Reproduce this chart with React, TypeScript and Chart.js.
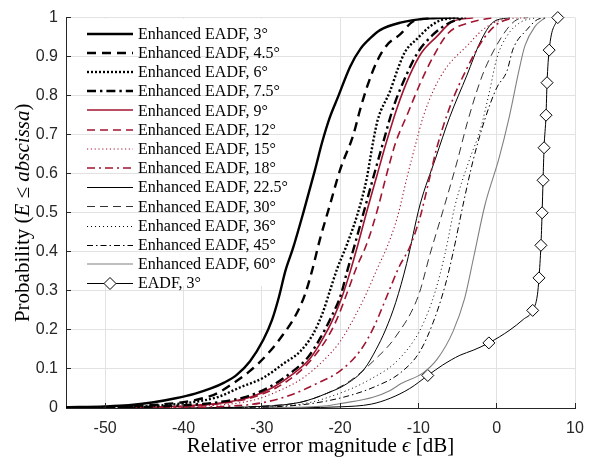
import React, { useEffect, useRef } from "react";
import { Chart, registerables } from "chart.js";

Chart.register(...registerables);

// ---------- axes ----------
const xTicks = [-50, -40, -30, -20, -10, 0, 10];
const yTicks = [0, 0.1, 0.2, 0.3, 0.4, 0.5, 0.6, 0.7, 0.8, 0.9, 1];
const yTickLabels = ["0", "0.1", "0.2", "0.3", "0.4", "0.5", "0.6", "0.7", "0.8", "0.9", "1"];
const xMin = -55;
const xMax = 10;

// ---------- series labels ----------
const seriesLabels = [
  "Enhanced EADF, 3°",
  "Enhanced EADF, 4.5°",
  "Enhanced EADF, 6°",
  "Enhanced EADF, 7.5°",
  "Enhanced EADF, 9°",
  "Enhanced EADF, 12°",
  "Enhanced EADF, 15°",
  "Enhanced EADF, 18°",
  "Enhanced EADF, 22.5°",
  "Enhanced EADF, 30°",
  "Enhanced EADF, 36°",
  "Enhanced EADF, 45°",
  "Enhanced EADF, 60°",
  "EADF, 3°",
];

// ---------- data (relative error in dB, CDF) ----------
const e3X = [-55, -50, -47, -44, -41, -38.5, -36.5, -34.8, -33.2, -31.5, -29.8, -28.7, -27.8, -27.0, -26.0, -24.7, -23.2, -22.3, -21.3, -20.3, -18.7, -17.4, -16, -14.9, -12.3, -8.5, -5];
const e3Y = [0.002, 0.004, 0.007, 0.014, 0.025, 0.037, 0.05, 0.065, 0.085, 0.12, 0.175, 0.225, 0.285, 0.35, 0.41, 0.5, 0.61, 0.68, 0.745, 0.795, 0.875, 0.92, 0.95, 0.968, 0.987, 0.998, 1];

const e45X = [-52, -47, -43, -40, -37.5, -35.7, -33.7, -31.5, -29.3, -27.3, -25.6, -24.5, -23.6, -22.6, -21.3, -20, -18.3, -17.5, -16.6, -15.3, -14, -12.3, -10.7, -8];
const e45Y = [0, 0.004, 0.009, 0.015, 0.025, 0.0375, 0.0625, 0.095, 0.1375, 0.1875, 0.24, 0.29, 0.35, 0.43, 0.52, 0.61, 0.7, 0.76, 0.82, 0.8875, 0.93, 0.9575, 0.99, 1];

const e6X = [-52, -45, -40, -35.7, -32.8, -29.8, -27.3, -25.1, -23.5, -22.2, -21.3, -20.4, -19.1, -17.8, -16.6, -15.8, -15.2, -13.6, -12.6, -11.7, -10.2, -8.5, -6.9, -4];
const e6Y = [0, 0.004, 0.012, 0.0275, 0.0525, 0.0775, 0.1125, 0.145, 0.1875, 0.245, 0.3, 0.355, 0.42, 0.495, 0.5875, 0.68, 0.7375, 0.8125, 0.87, 0.9125, 0.945, 0.9775, 0.995, 1];

const e75X = [-50, -40, -35.5, -31.8, -28.9, -26.3, -24.1, -22.5, -21.2, -19.9, -19.1, -18.1, -17.0, -15.7, -14.5, -13.2, -11.6, -10.1, -8.2, -6.2, -4];
const e75Y = [0, 0.007, 0.015, 0.03, 0.055, 0.09, 0.13, 0.18, 0.23, 0.29, 0.35, 0.42, 0.5, 0.595, 0.68, 0.77, 0.85, 0.91, 0.955, 0.985, 1];

const e9X = [-48, -40, -35.3, -31.5, -28.6, -26, -23.8, -22.2, -20.9, -19.7, -18.7, -17.7, -16.6, -15.3, -14.1, -12.7, -11.1, -9.6, -7.6, -5.8, -3];
const e9Y = [0, 0.005, 0.0125, 0.0275, 0.0525, 0.0875, 0.1275, 0.1775, 0.2275, 0.2875, 0.35, 0.42, 0.5025, 0.595, 0.68, 0.77, 0.8525, 0.91, 0.9525, 0.988, 1];

const e12X = [-48, -40, -35, -31.1, -28.1, -25.5, -23.5, -21.7, -20.4, -19.1, -17.9, -16.6, -15.3, -14, -12.9, -11.4, -9.8, -8.1, -6.2, -3.4, -0.5];
const e12Y = [0, 0.004, 0.012, 0.0275, 0.0525, 0.0875, 0.1275, 0.1775, 0.2275, 0.295, 0.36, 0.42, 0.5025, 0.6025, 0.68, 0.7525, 0.83, 0.9, 0.96, 0.9875, 1];

const e15X = [-45, -38, -31.1, -27.7, -24.7, -22.2, -20, -18.3, -16.6, -15.3, -14, -12.7, -11.4, -10.3, -9.4, -8.1, -6.5, -3.8, -1.7, 0.8, 3.9];
const e15Y = [0, 0.004, 0.02, 0.045, 0.0775, 0.12, 0.17, 0.2275, 0.295, 0.355, 0.4125, 0.4875, 0.595, 0.68, 0.745, 0.8125, 0.87, 0.9275, 0.97, 0.995, 1];

const e18X = [-45, -35, -30.2, -26.4, -23, -20, -17.5, -15.8, -14, -12.5, -11.1, -9.8, -8.5, -7.6, -6, -3.8, -1.7, 0, 2.1];
const e18Y = [0, 0.004, 0.0125, 0.0325, 0.0625, 0.095, 0.145, 0.2025, 0.2875, 0.36, 0.4125, 0.4875, 0.595, 0.67, 0.77, 0.87, 0.945, 0.9825, 1];

const e225X = [-40, -30, -25, -21.7, -19.1, -16.9, -15.4, -14.2, -12.9, -11.5, -9.8, -7.8, -6, -3.8, -2.1, -0.5, 1.7];
const e225Y = [0, 0.004, 0.015, 0.0375, 0.0625, 0.1, 0.15, 0.2, 0.27, 0.37, 0.52, 0.64, 0.745, 0.8525, 0.9375, 0.9875, 1];

const e30X = [-40, -30, -25, -21.7, -18.7, -15.5, -13, -10, -8.5, -6.9, -5, -3.8, -2.1, -0.9, 1.3, 2.6, 4];
const e30Y = [0, 0.005, 0.015, 0.0375, 0.07, 0.125, 0.18, 0.2875, 0.395, 0.5025, 0.635, 0.7275, 0.8375, 0.895, 0.97, 0.995, 1];

const e36X = [-35, -25, -19.1, -15.8, -13, -10.5, -9.3, -7.9, -6.6, -5.3, -3.5, -2.1, -0.9, 0, 1.3, 3, 5];
const e36Y = [0, 0.01, 0.045, 0.0775, 0.115, 0.175, 0.22, 0.295, 0.395, 0.52, 0.635, 0.7125, 0.8125, 0.895, 0.9525, 0.9875, 1];

const e45dX = [-35, -25, -19.6, -15.5, -12.3, -9.8, -8.1, -6.6, -5.6, -4.3, -3, -1.5, 0, 1.3, 2.1, 3.9, 5.2, 6.5];
const e45dY = [0, 0.008, 0.0275, 0.055, 0.09, 0.145, 0.22, 0.3125, 0.395, 0.52, 0.635, 0.74, 0.82, 0.8625, 0.92, 0.97, 0.995, 1];

const e60X = [-30, -22, -19.6, -15.8, -13.6, -12.2, -9.4, -7.6, -5.6, -4.1, -2.9, -1.5, 0.3, 1.6, 2.9, 3.6, 4.9, 6.2];
const e60Y = [0, 0.005, 0.0125, 0.0275, 0.045, 0.0625, 0.09, 0.125, 0.195, 0.28, 0.39, 0.52, 0.64, 0.745, 0.87, 0.9275, 0.9775, 1];

const eadfX = [-30, -20, -16, -13.6, -11.1, -8.8, -6.9, -4.7, -3, -1, 1.7, 3.4, 4.6, 5.2, 5.4, 5.65, 5.8, 5.92, 6.05, 6.3, 6.43, 6.7, 7.8];
const eadfY = [0, 0.003, 0.01, 0.025, 0.05, 0.0833, 0.11, 0.135, 0.148, 0.1667, 0.2, 0.227, 0.25, 0.29, 0.3333, 0.4167, 0.5, 0.5833, 0.6667, 0.75, 0.8333, 0.9167, 1];
const eadfMarker = [0, 0, 0, 0, 0, 1, 0, 0, 0, 1, 0, 0, 1, 0, 1, 1, 1, 1, 1, 1, 1, 1, 1];

const seriesX = [e3X, e45X, e6X, e75X, e9X, e12X, e15X, e18X, e225X, e30X, e36X, e45dX, e60X, eadfX];
const seriesY = [e3Y, e45Y, e6Y, e75Y, e9Y, e12Y, e15Y, e18Y, e225Y, e30Y, e36Y, e45dY, e60Y, eadfY];

// ---------- styles ----------
const RED = "#A2142F";
const BLACK = "#000000";
const GREY = "#808080";
const GRID = "#e2e2e2";
const AXIS = "#262626";

type Style = { color: string; width: number; dash: number[] };
const styles: Style[] = [
  { color: BLACK, width: 2.4, dash: [] },
  { color: BLACK, width: 2.4, dash: [9, 6] },
  { color: BLACK, width: 2.4, dash: [2, 2] },
  { color: BLACK, width: 2.4, dash: [9, 4, 2.4, 4] },
  { color: RED, width: 1.6, dash: [] },
  { color: RED, width: 1.6, dash: [8, 5] },
  { color: RED, width: 1.1, dash: [1.2, 2.6] },
  { color: RED, width: 1.6, dash: [8, 4, 2, 4] },
  { color: BLACK, width: 1, dash: [] },
  { color: "#333333", width: 1, dash: [8, 5] },
  { color: BLACK, width: 1, dash: [1, 3] },
  { color: BLACK, width: 1, dash: [6, 3, 1.5, 3] },
  { color: GREY, width: 1.1, dash: [] },
  { color: BLACK, width: 1, dash: [] },
];

const SERIF = "'Liberation Serif', 'Times New Roman', serif";
const SANS = "'Liberation Sans', Arial, sans-serif";

function alignPx(v: number) {
  return Math.round(v - 0.5) + 0.5;
}

function drawDiamond(ctx: CanvasRenderingContext2D, x: number, y: number, r: number) {
  ctx.save();
  ctx.setLineDash([]);
  ctx.beginPath();
  ctx.moveTo(x, y - r);
  ctx.lineTo(x + r, y);
  ctx.lineTo(x, y + r);
  ctx.lineTo(x - r, y);
  ctx.closePath();
  ctx.fillStyle = "#ffffff";
  ctx.fill();
  ctx.strokeStyle = BLACK;
  ctx.lineWidth = 1;
  ctx.stroke();
  ctx.restore();
}

const overlayPlugin = {
  id: "overlay",
  beforeDatasetsDraw(chart: any) {
    const { ctx, chartArea, scales } = chart;
    const ys = scales.y;
    const x0 = chartArea.left + 1;
    const y0 = chartArea.top + 1;
    const x1 = 300;
    const y1 = 286;
    ctx.save();
    ctx.fillStyle = "#ffffff";
    ctx.fillRect(x0, y0, x1 - x0, y1 - y0);
    ctx.strokeStyle = GRID;
    ctx.lineWidth = 1;
    yTicks.forEach((v) => {
      const py = alignPx(ys.getPixelForValue(v));
      if (py > y0 && py < y1) {
        ctx.beginPath();
        ctx.moveTo(x0, py);
        ctx.lineTo(x1, py);
        ctx.stroke();
      }
    });
    // legend entries
    const rowTop = chartArea.top + 16;
    const rowStep = 19.2;
    const lineX0 = chartArea.left + 21;
    const lineX1 = chartArea.left + 67;
    const textX = chartArea.left + 72;
    seriesLabels.forEach((label, i) => {
      const s = styles[i];
      const yy = Math.round(rowTop + i * rowStep) + (s.width % 2 === 1 ? 0.5 : 0);
      ctx.save();
      ctx.strokeStyle = s.color;
      ctx.lineWidth = s.width;
      ctx.setLineDash(s.dash);
      ctx.lineCap = "butt";
      ctx.beginPath();
      ctx.moveTo(lineX0, yy);
      ctx.lineTo(lineX1, yy);
      ctx.stroke();
      ctx.restore();
      if (i === seriesLabels.length - 1) {
        drawDiamond(ctx, (lineX0 + lineX1) / 2, yy, 6);
      }
      ctx.fillStyle = BLACK;
      ctx.font = `16px ${SERIF}`;
      ctx.textAlign = "left";
      ctx.textBaseline = "middle";
      ctx.fillText(label, textX, rowTop + i * rowStep + 1);
    });
    ctx.restore();
  },
  afterDraw(chart: any) {
    const { ctx, chartArea, scales } = chart;
    const xs = scales.x;
    const ys = scales.y;
    ctx.save();
    // inward ticks
    ctx.strokeStyle = AXIS;
    ctx.lineWidth = 1;
    xTicks.forEach((v) => {
      const px = alignPx(xs.getPixelForValue(v));
      ctx.beginPath();
      ctx.moveTo(px, chartArea.bottom);
      ctx.lineTo(px, chartArea.bottom - 5);
      ctx.stroke();
    });
    yTicks.forEach((v) => {
      const py = alignPx(ys.getPixelForValue(v));
      ctx.beginPath();
      ctx.moveTo(chartArea.left, py);
      ctx.lineTo(chartArea.left + 5, py);
      ctx.stroke();
    });
    // x title
    ctx.fillStyle = BLACK;
    ctx.textBaseline = "alphabetic";
    const xParts: [string, boolean][] = [
      ["Relative error magnitude ", false],
      ["ϵ", true],
      [" [dB]", false],
    ];
    const fontFor = (it: boolean) => `${it ? "italic " : ""}21px ${SERIF}`;
    let total = 0;
    xParts.forEach(([t, it]) => {
      ctx.font = fontFor(it);
      total += ctx.measureText(t).width;
    });
    let cx = (chartArea.left + chartArea.right) / 2 - total / 2;
    ctx.textAlign = "left";
    xParts.forEach(([t, it]) => {
      ctx.font = fontFor(it);
      ctx.fillText(t, cx, 452);
      cx += ctx.measureText(t).width;
    });
    // y title (rotated)
    const yParts: [string, boolean][] = [
      ["Probability (", false],
      ["E", true],
      [" ≤ ", false],
      ["abscissa", true],
      [")", false],
    ];
    total = 0;
    yParts.forEach(([t, it]) => {
      ctx.font = fontFor(it);
      total += ctx.measureText(t).width;
    });
    ctx.translate(29, (chartArea.top + chartArea.bottom) / 2);
    ctx.rotate(-Math.PI / 2);
    let tx = -total / 2;
    yParts.forEach(([t, it]) => {
      ctx.font = fontFor(it);
      ctx.fillText(t, tx, 0);
      tx += ctx.measureText(t).width;
    });
    ctx.restore();
  },
};

export default function App() {
  const canvasRef = useRef<HTMLCanvasElement | null>(null);

  useEffect(() => {
    const canvas = canvasRef.current;
    if (!canvas) return;
    const lastIdx = seriesLabels.length - 1;
    const datasets = seriesLabels.map((label, i) => {
      const s = styles[i];
      const xs = seriesX[i];
      const ys = seriesY[i];
      const isEadf = i === lastIdx;
      return {
        label,
        data: xs.map((x, k) => ({ x, y: ys[k] })),
        borderColor: s.color,
        borderWidth: s.width,
        borderDash: s.dash,
        backgroundColor: s.color,
        fill: false,
        cubicInterpolationMode: "monotone" as const,
        pointRadius: isEadf ? (c: any) => (eadfMarker[c.dataIndex] ? 6 : 0) : 0,
        pointStyle: "rectRot" as const,
        pointBorderColor: BLACK,
        pointBackgroundColor: "#ffffff",
        pointBorderWidth: 1,
        pointHoverRadius: 0,
        clip: isEadf ? false : undefined,
        order: i,
      };
    });

    const chart = new Chart(canvas, {
      type: "line",
      data: { datasets: datasets as any },
      options: {
        responsive: false,
        animation: false,
        events: [],
        layout: { padding: { top: 8, right: 28, left: 0, bottom: 0 } },
        plugins: {
          legend: { display: false },
          tooltip: { enabled: false },
          title: { display: false },
        },
        scales: {
          x: {
            type: "linear",
            min: xMin,
            max: xMax,
            afterBuildTicks: (scale: any) => {
              scale.ticks = xTicks.map((v) => ({ value: v }));
            },
            afterFit: (scale: any) => {
              scale.height = 55;
            },
            grid: { color: GRID, lineWidth: 1, drawTicks: false },
            border: { display: true, color: AXIS, width: 1 },
            ticks: {
              padding: 11,
              color: AXIS,
              font: { family: SANS, size: 16 },
              maxRotation: 0,
              callback: (v: any) => String(v),
            },
          },
          y: {
            type: "linear",
            min: 0,
            max: 1,
            afterBuildTicks: (scale: any) => {
              scale.ticks = yTicks.map((v) => ({ value: v }));
            },
            afterFit: (scale: any) => {
              scale.width = 66;
            },
            grid: { color: GRID, lineWidth: 1, drawTicks: false },
            border: { display: true, color: AXIS, width: 1 },
            ticks: {
              padding: 8,
              color: AXIS,
              font: { family: SANS, size: 16 },
              callback: (v: any) => {
                const idx = yTicks.findIndex((t) => Math.abs(t - v) < 1e-9);
                return idx >= 0 ? yTickLabels[idx] : "";
              },
            },
          },
        },
      },
      plugins: [overlayPlugin],
    });

    return () => {
      chart.destroy();
    };
  }, []);

  return (
    <div style={{ position: "absolute", left: 0, top: 0, width: 603, height: 463, background: "#ffffff" }}>
      <canvas ref={canvasRef} width={603} height={463} style={{ display: "block" }} />
    </div>
  );
}
